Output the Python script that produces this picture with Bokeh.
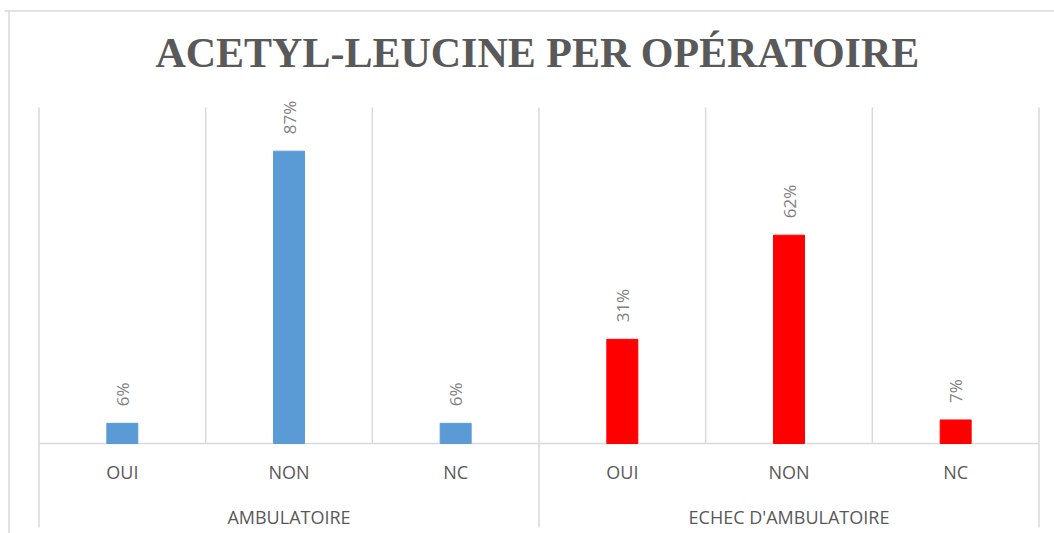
import math
from bokeh.plotting import figure
from bokeh.models import Range1d, ColumnDataSource
from bokeh.core.properties import value
from bokeh.embed import file_html
from bokeh.resources import INLINE

# ---- data ----
title_text = "ACETYL-LEUCINE PER OPÉRATOIRE"
groups = ["AMBULATOIRE", "ECHEC D'AMBULATOIRE"]
categories = ["OUI", "NON", "NC"]
ambulatoire = [6, 87, 6]
echec = [31, 62, 7]
series = [ambulatoire, echec]

# ---- styles ----
group_colors = {"AMBULATOIRE": "#5B9BD5", "ECHEC D'AMBULATOIRE": "#FF0000"}
grid_color = "#D9D9D9"
text_color = "#595959"
label_color = "#7F7F7F"

W, H = 1054, 533
# pixel layout (canvas coords)
x0_px, x6_px = 38.5, 1038.5
y0_px, y100_px = 443, 107
upx = (x6_px - x0_px) / 6.0
vpx = (y0_px - y100_px) / 100.0

x_start = -x0_px / upx
x_end = 6 + (W - x6_px) / upx
y_start = -(H - y0_px) / vpx
y_end = 100 + y100_px / vpx

p = figure(width=W, height=H, output_backend="svg", toolbar_location=None,
           x_range=Range1d(x_start, x_end), y_range=Range1d(y_start, y_end),
           min_border=0, min_border_left=0, min_border_right=0,
           min_border_top=0, min_border_bottom=0)
p.axis.visible = False
p.xgrid.visible = False
p.ygrid.visible = False
p.outline_line_color = None
p.background_fill_color = "white"
p.border_fill_color = "white"

n_cat = len(categories)
n_all = n_cat * len(groups)

# bars
xs, tops, cols, labels = [], [], [], []
for gi, g in enumerate(groups):
    for ci, c in enumerate(categories):
        xs.append(gi * n_cat + ci + 0.5)
        tops.append(series[gi][ci])
        cols.append(group_colors[g])
        labels.append(f"{series[gi][ci]}%")
src = ColumnDataSource(dict(x=xs, top=tops, color=cols, label=labels))

# grid lines (vertical separators)
bound_x = list(range(n_all + 1))
sep_end = -(527 - y0_px) / vpx
sep_bottom = [sep_end if (b % n_cat == 0) else 0 for b in bound_x]
p.segment(x0=bound_x, y0=[100] * len(bound_x), x1=bound_x, y1=sep_bottom,
          line_color=grid_color, line_width=1.5)
# category axis line
p.segment(x0=[0], y0=[0], x1=[n_all], y1=[0], line_color=grid_color, line_width=1.5)
# chart border (top and left)
border_top = (y0_px - 10.5) / vpx
border_left = (8.5 - x0_px) / upx
p.segment(x0=[(4 - x0_px) / upx], y0=[border_top], x1=[x_end], y1=[border_top],
          line_color=grid_color, line_width=1.5)
p.segment(x0=[border_left], y0=[border_top], x1=[border_left], y1=[y_start],
          line_color=grid_color, line_width=1.5)

p.vbar(x="x", top="top", bottom=0, width=0.186, color="color", source=src)

# data labels
p.text(x="x", y="top", text="label", source=src, angle=math.pi / 2,
       text_align="left", text_baseline="middle", y_offset=-17,
       text_font=value("Open Sans"), text_font_size="17px", text_color=label_color)

# category labels
cat_x = [gi * n_cat + ci + 0.5 for gi in range(len(groups)) for ci in range(n_cat)]
cat_t = [c for _ in groups for c in categories]
p.text(x=cat_x, y=[-28 / vpx] * len(cat_x), text=cat_t,
       text_align="center", text_baseline="middle",
       text_font=value("Open Sans"), text_font_size="18px", text_color=text_color)

# group labels
grp_x = [gi * n_cat + n_cat / 2 for gi in range(len(groups))]
p.text(x=grp_x, y=[-73 / vpx] * len(grp_x), text=groups,
       text_align="center", text_baseline="middle",
       text_font=value("Open Sans"), text_font_size="18px", text_color=text_color)

# title
p.text(x=[n_all / 2 - 0.01], y=[(y0_px - 52) / vpx], text=[title_text],
       text_align="center", text_baseline="middle",
       text_font=value("Liberation Serif"), text_font_style="bold",
       text_font_size="42px", text_color=text_color)

open("out.html", "w").write(file_html(p, INLINE))
